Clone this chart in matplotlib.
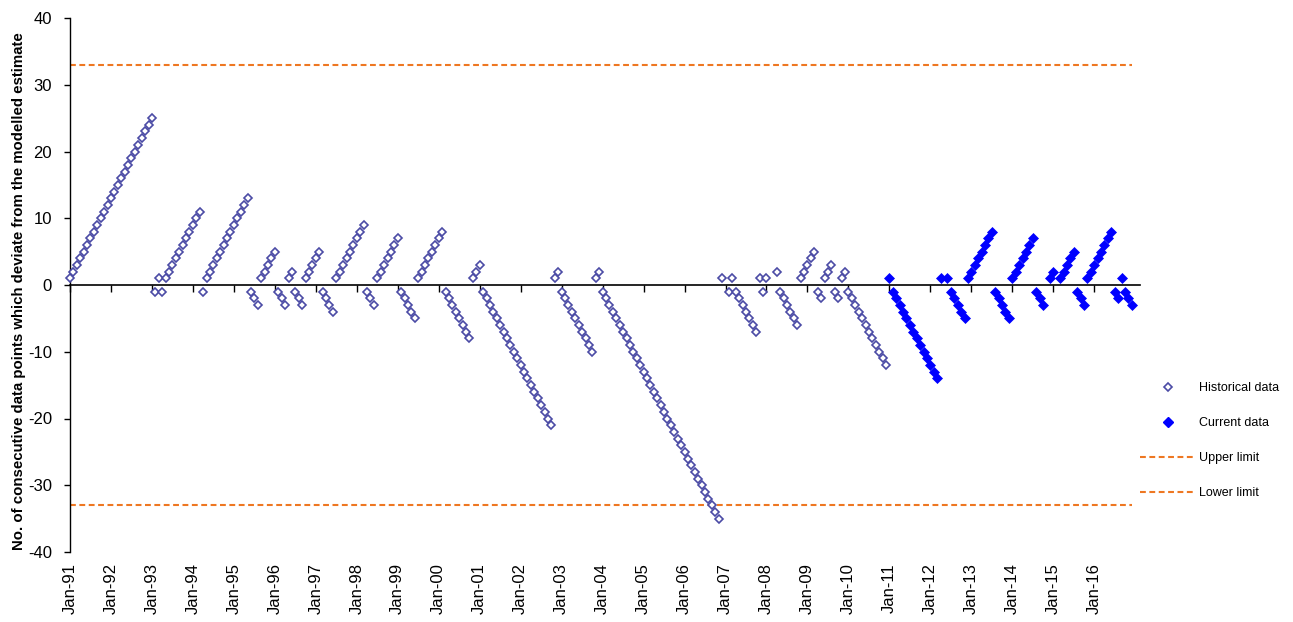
import numpy as np
import matplotlib
matplotlib.use('Agg')
import matplotlib.pyplot as plt
from matplotlib.lines import Line2D

plt.rcParams['font.family'] = ['Liberation Sans', 'DejaVu Sans']
plt.rcParams['axes.unicode_minus'] = False

# consecutive-deviation counts, one value per month from Jan-91 (None = no point)
historical = [
    1, 2, 3, 4, 5, 6, 7, 8, 9, 10, 11, 12,                        # 1991
    13, 14, 15, 16, 17, 18, 19, 20, 21, 22, 23, 24,               # 1992
    25, -1, 1, -1, 1, 2, 3, 4, 5, 6, 7, 8,                        # 1993
    9, 10, 11, -1, 1, 2, 3, 4, 5, 6, 7, 8,                        # 1994
    9, 10, 11, 12, 13, -1, -2, -3, 1, 2, 3, 4,                    # 1995
    5, -1, -2, -3, 1, 2, -1, -2, -3, 1, 2, 3,                     # 1996
    4, 5, -1, -2, -3, -4, 1, 2, 3, 4, 5, 6,                       # 1997
    7, 8, 9, -1, -2, -3, 1, 2, 3, 4, 5, 6,                        # 1998
    7, -1, -2, -3, -4, -5, 1, 2, 3, 4, 5, 6,                      # 1999
    7, 8, -1, -2, -3, -4, -5, -6, -7, -8, 1, 2,                   # 2000
    3, -1, -2, -3, -4, -5, -6, -7, -8, -9, -10, -11,              # 2001
    -12, -13, -14, -15, -16, -17, -18, -19, -20, -21, 1, 2,       # 2002
    -1, -2, -3, -4, -5, -6, -7, -8, -9, -10, 1, 2,                # 2003
    -1, -2, -3, -4, -5, -6, -7, -8, -9, -10, -11, -12,            # 2004
    -13, -14, -15, -16, -17, -18, -19, -20, -21, -22, -23, -24,   # 2005
    -25, -26, -27, -28, -29, -30, -31, -32, -33, -34, -35, 1,     # 2006
    None, -1, 1, -1, -2, -3, -4, -5, -6, -7, 1, -1,               # 2007
    1, None, None, 2, -1, -2, -3, -4, -5, -6, 1, 2,               # 2008
    3, 4, 5, -1, -2, 1, 2, 3, -1, -2, 1, 2,                       # 2009
    -1, -2, -3, -4, -5, -6, -7, -8, -9, -10, -11, -12,            # 2010
]
current = [
    1, -1, -2, -3, -4, -5, -6, -7, -8, -9, -10, -11,              # 2011
    -12, -13, -14, 1, None, 1, -1, -2, -3, -4, -5, 1,             # 2012
    2, 3, 4, 5, 6, 7, 8, -1, -2, -3, -4, -5,                      # 2013
    1, 2, 3, 4, 5, 6, 7, -1, -2, -3, None, 1,                     # 2014
    2, None, 1, 2, 3, 4, 5, -1, -2, -3, 1, 2,                     # 2015
    3, 4, 5, 6, 7, 8, -1, -2, 1, -1, -2, -3,                      # 2016
]
upper_limit = 33
lower_limit = -33
years = list(range(1991, 2017))
tick_labels = ['Jan-%02d' % (y % 100) for y in years]

hist_y = np.array([np.nan if v is None else v for v in historical], dtype=float)
curr_y = np.array([np.nan if v is None else v for v in current], dtype=float)
hist_x = np.arange(len(hist_y))
curr_x = np.arange(len(hist_y), len(hist_y) + len(curr_y))
n_months = len(hist_y) + len(curr_y)

hist_color = '#4B4BA5'
curr_color = '#0000FF'
limit_color = '#EE7722'

fig = plt.figure(figsize=(12.93, 6.22), dpi=100)
ax = fig.add_axes([70 / 1293, 1 - 552 / 622, 1070 / 1293, 534 / 622])

ax.plot([0, n_months - 1], [upper_limit, upper_limit], color=limit_color,
        lw=1.5, dashes=(2.8, 1.7))
ax.plot([0, n_months - 1], [lower_limit, lower_limit], color=limit_color,
        lw=1.5, dashes=(2.8, 1.7))
ax.plot(hist_x, hist_y, ls='none', marker='D', ms=4.2, mfc='white',
        mec=hist_color, mew=1.2, clip_on=False, zorder=3)
ax.plot(curr_x, curr_y, ls='none', marker='D', ms=5.5, mfc=curr_color,
        mec=curr_color, mew=0.5, clip_on=False, zorder=3)

ax.set_xlim(0, 313.4)
ax.set_ylim(-40, 40)
ax.set_yticks(range(-40, 41, 10))
ax.tick_params(axis='y', direction='out', length=4, width=1, pad=9, labelsize=12)

# month labels sit along the bottom, tick marks sit on the zero line
ax.set_xticks(np.arange(0, n_months, 12))
ax.set_xticklabels(tick_labels, rotation=90, fontsize=12)
ax.tick_params(axis='x', length=0, pad=8)

for s in ['top', 'right', 'bottom']:
    ax.spines[s].set_visible(False)
ax.spines['left'].set_linewidth(1)

zero_axis = ax.secondary_xaxis(0.5)
zero_axis.set_alignment('bottom')
zero_axis.set_xticks(np.arange(0, n_months, 12))
zero_axis.set_xticklabels([])
zero_axis.tick_params(direction='out', length=5, width=1)
zero_axis.spines['bottom'].set_linewidth(1.2)

ax.set_ylabel('No. of consecutive data points which deviate from the modelled estimate',
              fontsize=10.8, fontweight='bold', labelpad=1)
ax.yaxis.label.set_y(0.488)

handles = [
    Line2D([], [], ls='none', marker='D', ms=4.2, mfc='white', mec=hist_color, mew=1.2),
    Line2D([], [], ls='none', marker='D', ms=5.5, mfc=curr_color, mec=curr_color),
    Line2D([], [], color=limit_color, lw=1.5, dashes=(2.8, 1.7)),
    Line2D([], [], color=limit_color, lw=1.5, dashes=(2.8, 1.7)),
]
labels = ['Historical data', 'Current data', 'Upper limit', 'Lower limit']
fig.legend(handles, labels, loc='upper left', bbox_to_anchor=(1140 / 1293, 1 - 382 / 622),
           frameon=False, fontsize=9, handlelength=4.4, handletextpad=0.3,
           labelspacing=1.85, borderpad=0, borderaxespad=0, numpoints=1)

fig.savefig('out.png', dpi=100)
